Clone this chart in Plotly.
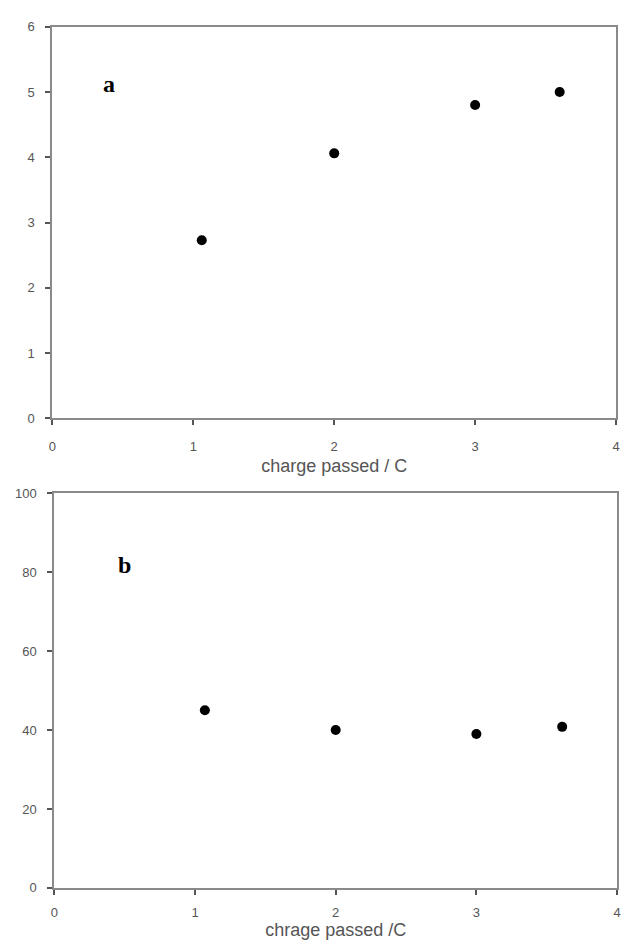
import plotly.graph_objects as go

# Data
charge_a = [1.06, 2.0, 3.0, 3.6]
values_a = [2.73, 4.06, 4.80, 5.00]
charge_b = [1.07, 2.0, 3.0, 3.61]
values_b = [45.0, 40.0, 39.0, 40.8]

xticks = [0, 1, 2, 3, 4]
yticks_a = [0, 1, 2, 3, 4, 5, 6]
yticks_b = [0, 20, 40, 60, 80, 100]

W, H = 624, 951
AX = "#8a8a8a"
TXT = "#555555"
tickfont = dict(family="Liberation Sans, Arial, sans-serif", size=13, color=TXT)
titlefont = dict(family="Liberation Sans, Arial, sans-serif", size=18, color=TXT)

def px_x(p):
    return p / W

def px_y(p):
    return 1 - p / H

fig = go.Figure()
fig.add_trace(go.Scatter(x=charge_a, y=values_a, mode="markers",
                         marker=dict(color="black", size=10),
                         xaxis="x", yaxis="y", showlegend=False))
fig.add_trace(go.Scatter(x=charge_b, y=values_b, mode="markers",
                         marker=dict(color="black", size=10),
                         xaxis="x2", yaxis="y2", showlegend=False))

common = dict(showline=True, linecolor=AX, linewidth=2, mirror=True,
              showgrid=False, zeroline=False, ticks="outside", ticklen=5,
              tickwidth=1.5, tickcolor="#555", tickfont=tickfont)

fig.update_layout(
    width=W, height=H,
    margin=dict(l=0, r=0, t=0, b=0),
    paper_bgcolor="white", plot_bgcolor="white",
    xaxis=dict(domain=[px_x(49), px_x(620)], range=[0, 4], tickvals=xticks,
               anchor="y", ticklabelstandoff=10,
               title=dict(text="charge passed / C", font=titlefont, standoff=6),
               **common),
    yaxis=dict(domain=[px_y(418), px_y(20)], range=[0, 6], tickvals=yticks_a,
               anchor="x", ticklabelstandoff=8, **common),
    xaxis2=dict(domain=[px_x(51), px_x(621)], range=[0, 4], tickvals=xticks,
                anchor="y2", ticklabelstandoff=7,
                title=dict(text="chrage passed /C", font=titlefont, standoff=4),
                **common),
    yaxis2=dict(domain=[px_y(895), px_y(494)], range=[0, 100], tickvals=yticks_b,
                anchor="x2", ticklabelstandoff=8, **common),
)

labelfont = dict(family="Liberation Serif, Times New Roman, serif", size=24, color="black")
fig.add_annotation(x=0.40, y=5.12, xref="x", yref="y", text="<b>a</b>",
                   showarrow=False, font=labelfont)
fig.add_annotation(x=0.50, y=81.8, xref="x2", yref="y2", text="<b>b</b>",
                   showarrow=False, font=labelfont)

fig.write_html("out.html", config={"displayModeBar": False},
               post_script="document.body.style.margin='0';document.body.style.overflow='hidden';")
